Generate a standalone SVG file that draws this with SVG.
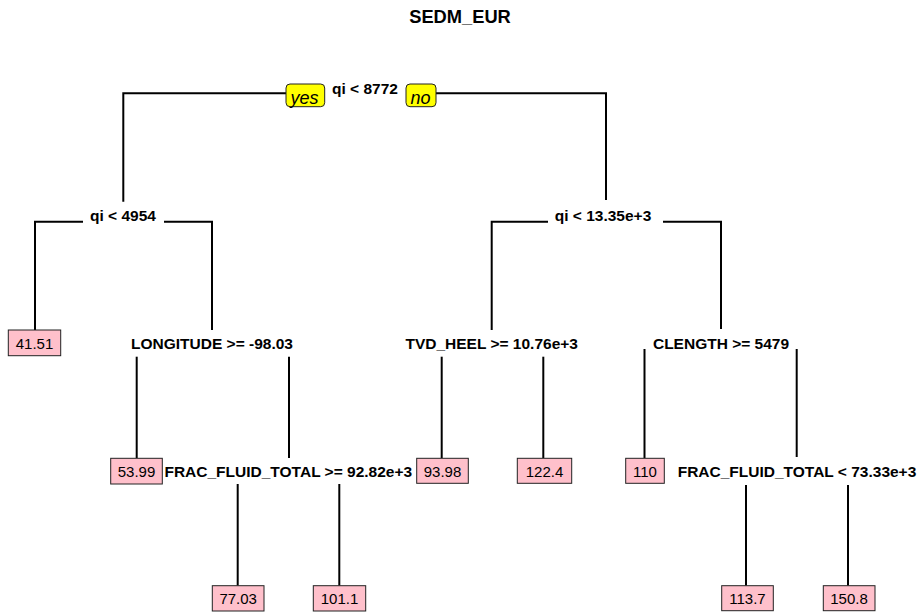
<svg xmlns="http://www.w3.org/2000/svg" width="922" height="613" viewBox="0 0 922 613">
<style>
.bg{fill:#ffffff}
.t{font-family:"Liberation Sans",Arial,sans-serif;font-size:18.3px;font-weight:bold;fill:#000;text-anchor:middle}
.sp{font-family:"Liberation Sans",Arial,sans-serif;font-size:15.5px;font-weight:bold;fill:#000;text-anchor:middle}
.lf{font-family:"Liberation Sans",Arial,sans-serif;font-size:15px;fill:#000;text-anchor:middle}
.yn{font-family:"Liberation Sans",Arial,sans-serif;font-size:18px;font-style:italic;fill:#000;text-anchor:middle}
.leafbox{fill:#FFC0CB;stroke:#222;stroke-width:1}
.ynbox{fill:#FFFF00;stroke:#222;stroke-width:1}
.edge{fill:none;stroke:#000;stroke-width:2}
</style>
<rect class="bg" x="0" y="0" width="922" height="613"/>
<text class="t" x="460" y="23">SEDM_EUR</text>
<g id="connectors">
<path class="edge" d="M286,93.3 H123.3 V201.7"/>
<path class="edge" d="M436,93.3 H606 V200"/>
<path class="edge" d="M83,221.7 H35 V330"/>
<path class="edge" d="M164,221.7 H212 V330"/>
<path class="edge" d="M136.7,356.7 V458"/>
<path class="edge" d="M289,356.7 V458"/>
<path class="edge" d="M548,221.7 H491.7 V330"/>
<path class="edge" d="M663,221.7 H721 V329"/>
<path class="edge" d="M441.7,356.7 V458"/>
<path class="edge" d="M543.3,356.7 V458"/>
<path class="edge" d="M644.5,349 V458"/>
<path class="edge" d="M796.7,349 V457"/>
<path class="edge" d="M237.7,484 V585.7"/>
<path class="edge" d="M339.3,484 V585.7"/>
<path class="edge" d="M746,485 V585.7"/>
<path class="edge" d="M848,485 V585.7"/>
</g>
<g id="n1">
<text class="sp" x="365" y="93.5">qi &lt; 8772</text>
<rect class="ynbox" x="286" y="84" width="38.7" height="22.7" rx="4" ry="4"/>
<text class="yn" x="304.5" y="103.5">yes</text>
<rect class="ynbox" x="406" y="84" width="30" height="22.7" rx="4" ry="4"/>
<text class="yn" x="420.5" y="103.5">no</text>
</g>
<g id="n2"><text class="sp" x="123" y="221">qi &lt; 4954</text></g>
<g id="n3"><text class="sp" x="603" y="221">qi &lt; 13.35e+3</text></g>
<g id="n4"><rect class="leafbox" x="8.3" y="330" width="52.4" height="25.7"/><text class="lf" x="34.5" y="348.5">41.51</text></g>
<g id="n5"><text class="sp" x="212" y="349">LONGITUDE &gt;= -98.03</text></g>
<g id="n6"><text class="sp" x="491.7" y="349">TVD_HEEL &gt;= 10.76e+3</text></g>
<g id="n7"><text class="sp" x="721" y="349">CLENGTH &gt;= 5479</text></g>
<g id="n8"><rect class="leafbox" x="110.7" y="458.3" width="51.6" height="25.7"/><text class="lf" x="136.5" y="476.5">53.99</text></g>
<g id="n9"><text class="sp" x="288.3" y="476.7">FRAC_FLUID_TOTAL &gt;= 92.82e+3</text></g>
<g id="n10"><rect class="leafbox" x="416.7" y="458.3" width="51.6" height="25"/><text class="lf" x="442.5" y="476.5">93.98</text></g>
<g id="n11"><rect class="leafbox" x="517.3" y="458.3" width="54.4" height="25"/><text class="lf" x="544.5" y="476.5">122.4</text></g>
<g id="n12"><rect class="leafbox" x="625.7" y="458.3" width="38.6" height="25"/><text class="lf" x="645" y="476.5">110</text></g>
<g id="n13"><text class="sp" x="797" y="476.5">FRAC_FLUID_TOTAL &lt; 73.33e+3</text></g>
<g id="n14"><rect class="leafbox" x="212.3" y="585.7" width="51.7" height="25.3"/><text class="lf" x="238.2" y="604">77.03</text></g>
<g id="n15"><rect class="leafbox" x="313.3" y="585.7" width="52.4" height="25.3"/><text class="lf" x="339.5" y="604">101.1</text></g>
<g id="n16"><rect class="leafbox" x="721.7" y="585.7" width="51.6" height="25"/><text class="lf" x="747.5" y="604">113.7</text></g>
<g id="n17"><rect class="leafbox" x="823.3" y="585.7" width="51.7" height="25"/><text class="lf" x="849" y="604">150.8</text></g>
</svg>
